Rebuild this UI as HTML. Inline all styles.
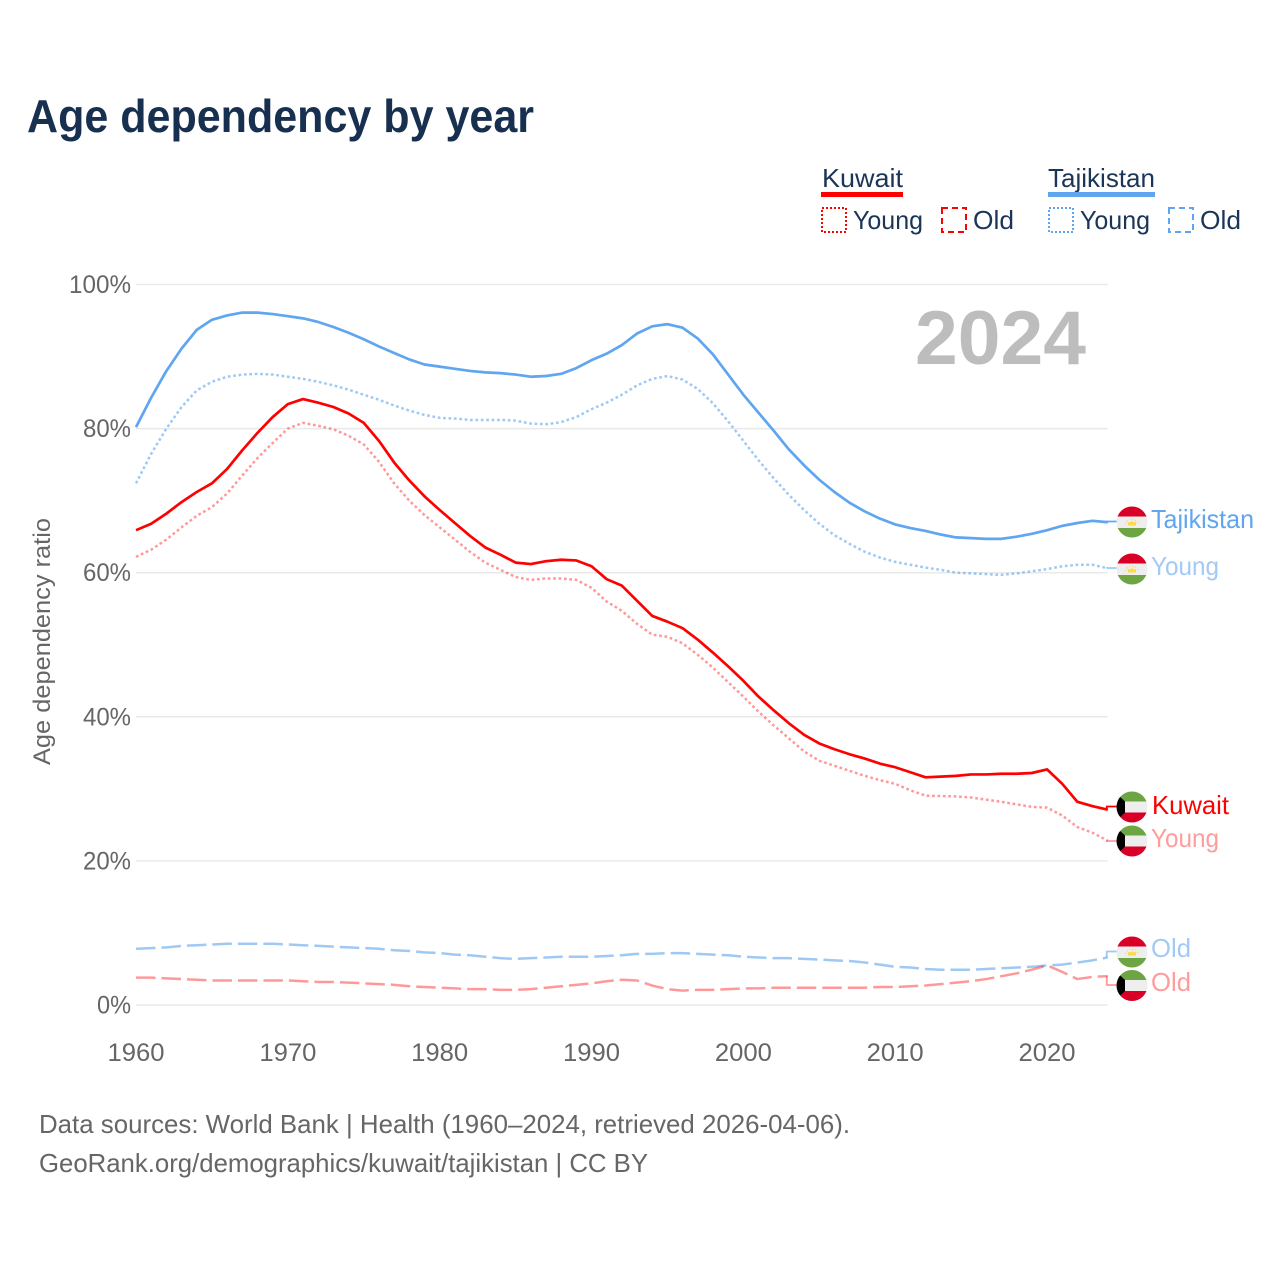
<!DOCTYPE html>
<html lang="en">
<head>
<meta charset="utf-8">
<title>Age dependency by year</title>
<style>
html,body{margin:0;padding:0;background:#fff;width:1280px;height:1280px;overflow:hidden}
svg{display:block}
text{font-family:"Liberation Sans",sans-serif}
</style>
</head>
<body>
<svg id="chart" width="1280" height="1280" viewBox="0 0 1280 1280" xmlns="http://www.w3.org/2000/svg">
<defs>
<clipPath id="flag-clip"><circle cx="0" cy="0" r="15.5"/></clipPath>
<g id="flag-tj" clip-path="url(#flag-clip)">
<rect x="-16" y="-16" width="32" height="32" fill="#eee"/>
<rect x="-16" y="-16" width="32" height="10.5" fill="#d80027"/>
<rect x="-16" y="6" width="32" height="10" fill="#6da544"/>
<path d="M-4 3.500V0L-2 .5 0-1 2 .5 4 0V3.500Z" fill="#ffda44"/>
<path d="M-6.500 2A6.800 6.800 0 0 1 6.500 2" fill="none" stroke="#ffda44" stroke-width="1.300" stroke-dasharray="1.200 1.800"/>
</g>
<g id="flag-kw" clip-path="url(#flag-clip)">
<rect x="-16" y="-16" width="32" height="32" fill="#eee"/>
<rect x="-16" y="-16" width="32" height="10.5" fill="#6da544"/>
<rect x="-16" y="5.500" width="32" height="10.500" fill="#d80027"/>
<path d="M-16-14-7-5.500V5.500L-16 14Z" fill="#000"/>
</g>
</defs>

<text x="27" y="132" font-size="46" font-weight="700" fill="#17304f" textLength="507" lengthAdjust="spacingAndGlyphs">Age dependency by year</text>

<g font-size="26" fill="#1a3557">
<text x="822" y="187" textLength="81" lengthAdjust="spacingAndGlyphs">Kuwait</text>
<rect x="821" y="192" width="82" height="5" fill="#ff0000"/>
<text x="1048" y="187" textLength="107" lengthAdjust="spacingAndGlyphs">Tajikistan</text>
<rect x="1048" y="192" width="107" height="5" fill="#5fa5ef"/>
<rect x="822" y="208" width="24" height="24" fill="none" stroke="#ff0000" stroke-width="2" stroke-dasharray="2 2"/>
<text x="853" y="229" textLength="70" lengthAdjust="spacingAndGlyphs">Young</text>
<rect x="942" y="208" width="24" height="24" fill="none" stroke="#ff0000" stroke-width="2" stroke-dasharray="6 4"/>
<text x="973" y="229" textLength="41" lengthAdjust="spacingAndGlyphs">Old</text>
<rect x="1049" y="208" width="24" height="24" fill="none" stroke="#5fa5ef" stroke-width="2" stroke-dasharray="2 2"/>
<text x="1080" y="229" textLength="70" lengthAdjust="spacingAndGlyphs">Young</text>
<rect x="1169" y="208" width="24" height="24" fill="none" stroke="#5fa5ef" stroke-width="2" stroke-dasharray="6 4"/>
<text x="1200" y="229" textLength="41" lengthAdjust="spacingAndGlyphs">Old</text>
</g>

<g id="grid"></g>
<g id="yticks"></g>
<g id="xticks"></g>

<text transform="translate(50,641.500) rotate(-90)" text-anchor="middle" font-size="24" fill="#666666" textLength="247" lengthAdjust="spacingAndGlyphs">Age dependency ratio</text>

<text x="915" y="364" font-size="76" font-weight="700" fill="#bdbdbd" textLength="171" lengthAdjust="spacingAndGlyphs">2024</text>

<g id="lines"></g>

<g font-size="26">
<use href="#flag-tj" x="1132" y="522"/>
<text x="1151" y="528" fill="#5fa5ef" textLength="103" lengthAdjust="spacingAndGlyphs">Tajikistan</text>
<use href="#flag-tj" x="1132" y="569"/>
<text x="1151" y="575" fill="#a3c9f6" textLength="68" lengthAdjust="spacingAndGlyphs">Young</text>
<use href="#flag-kw" x="1132" y="807"/>
<text x="1152" y="814" fill="#ff0000" textLength="77" lengthAdjust="spacingAndGlyphs">Kuwait</text>
<use href="#flag-kw" x="1132" y="841"/>
<text x="1151" y="847" fill="#ff9c9c" textLength="68" lengthAdjust="spacingAndGlyphs">Young</text>
<use href="#flag-tj" x="1132" y="952"/>
<text x="1151" y="957" fill="#a3c9f6" textLength="40" lengthAdjust="spacingAndGlyphs">Old</text>
<use href="#flag-kw" x="1132" y="985.500"/>
<text x="1151" y="991" fill="#ff9c9c" textLength="40" lengthAdjust="spacingAndGlyphs">Old</text>
</g>

<g font-size="26" fill="#666666">
<text x="39" y="1133" textLength="811" lengthAdjust="spacingAndGlyphs">Data sources: World Bank | Health (1960–2024, retrieved 2026-04-06).</text>
<text x="39" y="1172" textLength="609" lengthAdjust="spacingAndGlyphs">GeoRank.org/demographics/kuwait/tajikistan | CC BY</text>
</g>
</svg>

<script>
const firstYear = 1960;
const xTickYears = [1960, 1970, 1980, 1990, 2000, 2010, 2020];
const yTickValues = [0, 20, 40, 60, 80, 100];

const tajikistanTotal = [
80.2,84.3,88.0,91.1,93.7,95.1,95.7,96.1,96.1,95.9,
95.6,95.3,94.8,94.1,93.3,92.4,91.4,90.5,89.6,88.9,
88.6,88.3,88.0,87.8,87.7,87.5,87.2,87.3,87.6,88.4,
89.5,90.4,91.6,93.2,94.2,94.5,94.0,92.5,90.3,87.5,
84.7,82.2,79.7,77.1,74.9,72.9,71.2,69.7,68.5,67.5,
66.7,66.2,65.8,65.3,64.9,64.8,64.7,64.7,65.0,65.4,
65.9,66.5,66.9,67.2,67.0];
const tajikistanYoung = [
72.4,76.5,80.0,83.0,85.3,86.5,87.2,87.5,87.6,87.5,
87.2,86.9,86.5,86.0,85.4,84.7,84.0,83.2,82.5,81.9,
81.5,81.4,81.2,81.2,81.2,81.1,80.7,80.6,80.9,81.6,
82.7,83.6,84.7,86.0,86.9,87.3,86.8,85.5,83.5,81.0,
78.3,75.6,73.1,70.8,68.7,66.8,65.2,64.0,62.9,62.1,
61.5,61.1,60.7,60.4,60.0,59.9,59.8,59.7,59.9,60.2,
60.5,60.9,61.1,61.1,60.6];
const tajikistanOld = [
7.8,7.9,8.0,8.2,8.3,8.4,8.5,8.5,8.5,8.5,
8.4,8.3,8.2,8.1,8.0,7.9,7.8,7.6,7.5,7.3,
7.2,7.0,6.9,6.7,6.5,6.4,6.5,6.6,6.7,6.7,
6.7,6.8,6.9,7.1,7.1,7.2,7.2,7.1,7.0,6.9,
6.7,6.6,6.5,6.5,6.4,6.3,6.2,6.1,5.9,5.6,
5.3,5.2,5.0,4.9,4.9,4.9,5.0,5.1,5.2,5.3,
5.5,5.6,5.9,6.2,6.6];
const kuwaitTotal = [
65.9,66.8,68.2,69.8,71.2,72.4,74.4,77.0,79.4,81.6,
83.4,84.1,83.6,83.0,82.1,80.8,78.3,75.3,72.8,70.6,
68.7,66.9,65.1,63.5,62.5,61.4,61.2,61.6,61.8,61.7,
60.9,59.1,58.2,56.1,54.0,53.2,52.3,50.7,48.9,47.0,
45.0,42.8,40.9,39.1,37.5,36.3,35.5,34.8,34.2,33.5,
33.0,32.3,31.6,31.7,31.8,32.0,32.0,32.1,32.1,32.2,
32.7,30.7,28.2,27.6,27.1];
const kuwaitYoung = [
62.2,63.2,64.6,66.3,67.9,69.1,71.0,73.5,75.9,78.0,
80.0,80.8,80.4,79.9,79.0,77.8,75.4,72.4,70.0,68.0,
66.3,64.6,62.9,61.4,60.4,59.4,59.0,59.2,59.2,59.0,
57.9,56.0,54.7,52.9,51.4,51.1,50.2,48.6,46.8,44.8,
42.8,40.7,38.8,37.0,35.2,33.9,33.2,32.5,31.8,31.2,
30.7,29.8,29.05,29.0,28.95,28.8,28.5,28.2,27.85,27.5,
27.4,26.3,24.7,23.9,22.8];
const kuwaitOld = [
3.8,3.8,3.7,3.6,3.5,3.4,3.4,3.4,3.4,3.4,
3.4,3.3,3.2,3.2,3.1,3.0,2.9,2.8,2.6,2.5,
2.4,2.3,2.2,2.2,2.1,2.1,2.2,2.4,2.6,2.8,
3.0,3.3,3.5,3.4,2.7,2.2,2.0,2.1,2.1,2.2,
2.3,2.3,2.4,2.4,2.4,2.4,2.4,2.4,2.4,2.5,
2.5,2.6,2.7,2.9,3.1,3.3,3.6,4.0,4.4,4.9,
5.5,4.6,3.6,3.9,4.0];

const NS = 'http://www.w3.org/2000/svg';
function xScale(year) { return 136 + (year - 1960) * 15.184; }
function yScale(value) { return 1005 - value * 7.205; }

function make(tag, attrs, parent) {
  const el = document.createElementNS(NS, tag);
  for (const k in attrs) el.setAttribute(k, attrs[k]);
  parent.appendChild(el);
  return el;
}

const gridGroup = document.getElementById('grid');
const yGroup = document.getElementById('yticks');
const xGroup = document.getElementById('xticks');
const lineGroup = document.getElementById('lines');

yTickValues.forEach(function (v) {
  const line = make('line', {x1: 136, x2: 1107.500, y1: yScale(v), y2: yScale(v), stroke: '#e9e9e9', 'stroke-width': 1.500}, gridGroup);
  
  
  const label = make('text', {x: 131, y: yScale(v) + 8.500, 'text-anchor': 'end', 'font-size': 25, fill: '#666666', textLength: v === 100 ? 62 : v === 0 ? 34 : 48, lengthAdjust: 'spacingAndGlyphs'}, yGroup);
  
  
  label.textContent = v + '%';
});

xTickYears.forEach(function (year) {
  const label = make('text', {x: xScale(year), y: 1061, 'text-anchor': 'middle', 'font-size': 25, fill: '#666666', textLength: 57, lengthAdjust: 'spacingAndGlyphs'}, xGroup);
  
  
  label.textContent = year;
});

function drawSeries(values, color, dash, opacity, leaderY, width) {
  const pts = values.map(function (v, i) {
    return xScale(firstYear + i).toFixed(2) + ',' + yScale(v).toFixed(2);
  });
  const attrs = {points: pts.join(' '), fill: 'none', stroke: color, 'stroke-width': width, 'stroke-linejoin': 'round', opacity: opacity};
  if (dash) attrs['stroke-dasharray'] = dash;
  const line = make('polyline', attrs, lineGroup);
  
  
  const endX = xScale(firstYear + values.length - 1);
  const endY = yScale(values[values.length - 1]);
  const leader = make('polyline', {points: [endX - 1, endY, endX - 1, leaderY, 1118, leaderY].join(' '), fill: 'none', stroke: color, 'stroke-width': 1.800, opacity: opacity}, lineGroup);
  
  
}

const blue = '#5fa5ef';
const red = '#ff0000';
drawSeries(tajikistanOld, blue, '19.500 6', 0.6, 951.500, 2.500);
drawSeries(kuwaitOld, red, '19.500 6', 0.4, 985, 2.500);
drawSeries(tajikistanYoung, blue, '2.700 2.700', 0.6, 568, 2.500);
drawSeries(kuwaitYoung, red, '2.700 2.700', 0.4, 841, 2.500);
drawSeries(tajikistanTotal, blue, '', 1, 521.500, 2.700);
drawSeries(kuwaitTotal, red, '', 1, 806.500, 2.700);
</script>
</body>
</html>
